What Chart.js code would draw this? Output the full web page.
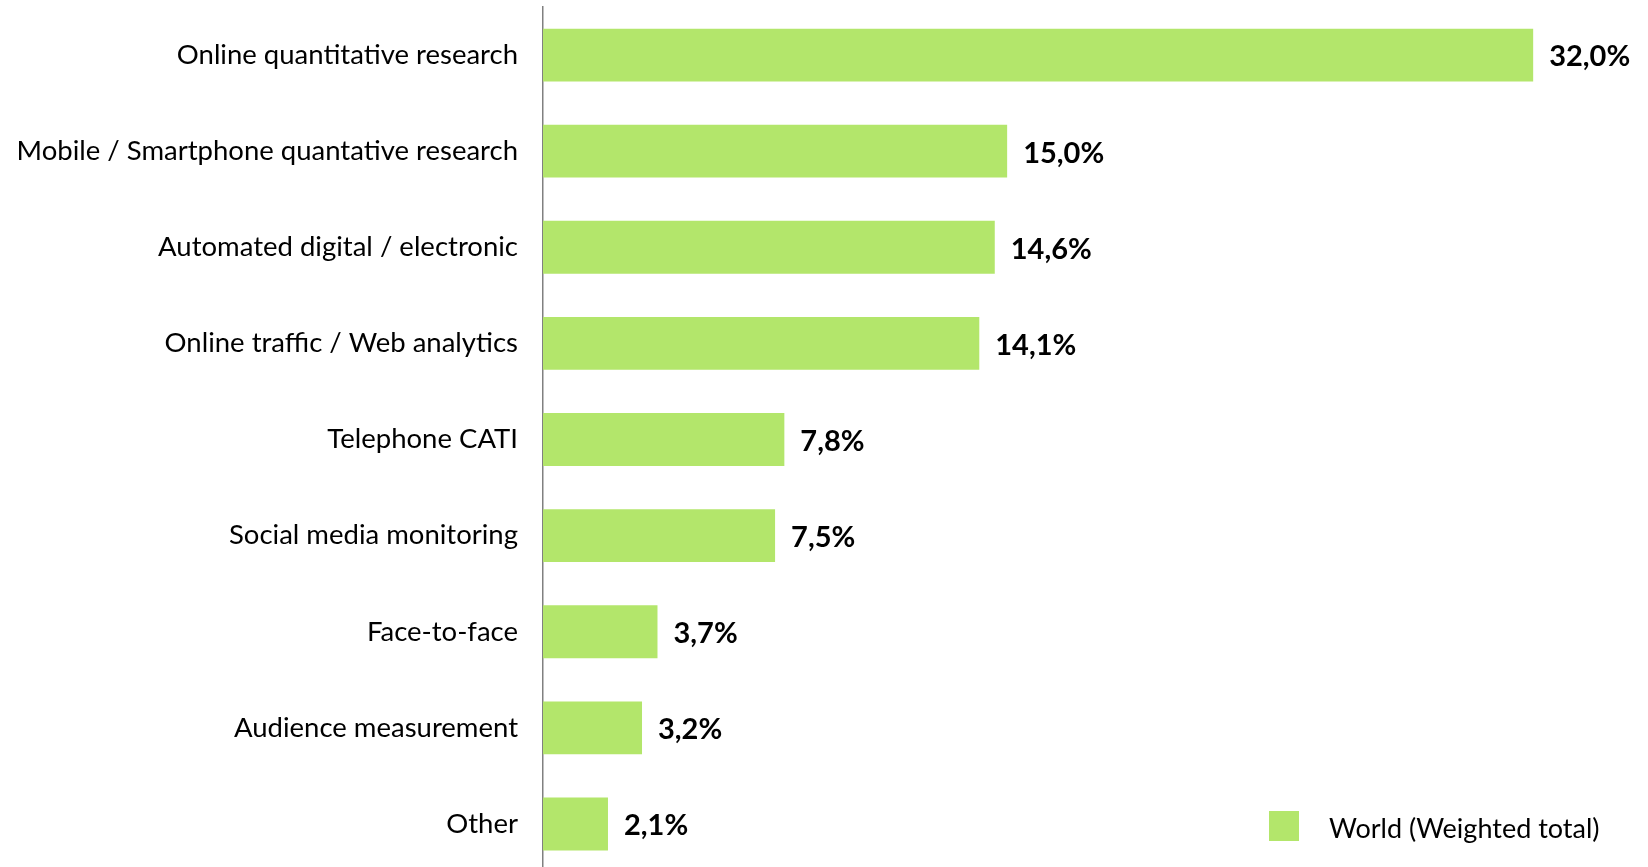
<!DOCTYPE html>
<html>
<head>
<meta charset="utf-8">
<script src="https://cdn.jsdelivr.net/npm/chart.js@4/dist/chart.umd.min.js"></script>
<style>
  html, body { margin: 0; padding: 0; background: #fff; overflow: hidden; }
  #wrap { width: 1648px; height: 872px; }
</style>
</head>
<body>
<div id="wrap"><canvas id="methods"></canvas></div>
<script>
let categories = [
    "Online quantitative research",
    "Mobile / Smartphone quantative research",
    "Automated digital / electronic",
    "Online traffic / Web analytics",
    "Telephone CATI",
    "Social media monitoring",
    "Face-to-face",
    "Audience measurement",
    "Other"
]
let shares = [32.0, 15.0, 14.6, 14.1, 7.8, 7.5, 3.7, 3.2, 2.1]
let seriesName = "World (Weighted total)"

let barColor = "#b3e66b"
let fontFamily = "Lato, 'Open Sans', sans-serif"

// value labels at the end of each bar, e.g. "32,0%"
let valueLabels = {
    id: "valueLabels",
    afterDatasetsDraw(chart) {
        let ctx = chart.ctx
        let meta = chart.getDatasetMeta(0)
        ctx.save()
        ctx.font = "bold 29px " + fontFamily
        ctx.fillStyle = "#000"
        ctx.textAlign = "left"
        ctx.textBaseline = "middle"
        meta.data.forEach((bar, i) => {
            let txt = shares[i].toFixed(1).replace(".", ",") + "%"
            ctx.fillText(txt, bar.x + 16, bar.y + 2)
        })
        ctx.restore()
    }
}

// legend box sitting in the lower right corner
let cornerLegend = {
    id: "cornerLegend",
    afterDraw(chart) {
        let ctx = chart.ctx
        let ds = chart.data.datasets[0]
        ctx.save()
        ctx.fillStyle = ds.backgroundColor
        ctx.fillRect(1269, 811, 30, 30)
        ctx.font = "27px " + fontFamily
        ctx.fillStyle = "#000"
        ctx.textAlign = "left"
        ctx.textBaseline = "middle"
        ctx.fillText(ds.label, 1329, 829)
        ctx.restore()
    }
}

let ctx1 = document.getElementById("methods").getContext("2d")

new Chart(ctx1, {
    type: "bar",
    data: {
        labels: categories,
        datasets: [{
            label: seriesName,
            data: shares,
            backgroundColor: barColor,
            categoryPercentage: 1,
            barPercentage: 0.55
        }]
    },
    options: {
        indexAxis: "y",
        responsive: true,
        maintainAspectRatio: false,
        animation: false,
        layout: { padding: { top: 7, right: 22, bottom: 0, left: 0 } },
        plugins: {
            legend: { display: false },
            tooltip: { enabled: false }
        },
        scales: {
            x: {
                display: false,
                min: 0,
                max: 35
            },
            y: {
                afterFit(scale) {
                    scale.width = 543
                    scale.paddingTop = 0
                    scale.paddingBottom = 0
                },
                grid: { display: false, drawTicks: false },
                border: { display: true, color: "#808080", width: 1.5 },
                ticks: {
                    color: "#000",
                    padding: 25,
                    font: { family: fontFamily, size: 27.5 }
                }
            }
        }
    },
    plugins: [valueLabels, cornerLegend]
})
</script>
</body>
</html>
